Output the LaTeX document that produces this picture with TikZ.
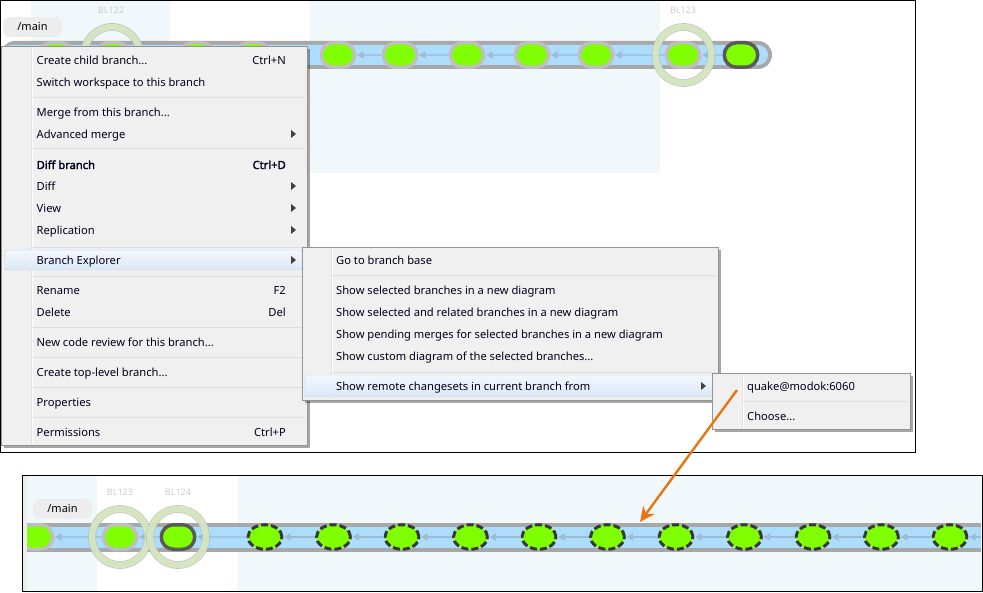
\documentclass[tikz,border=0pt]{standalone}
\usepackage{fontspec}
\setmainfont{Noto Sans}
\newfontfamily\heavyfont{Noto Sans}[FakeBold=2.2]
\usetikzlibrary{shapes}
\usetikzlibrary{arrows.meta}
\usetikzlibrary{shadows}
\definecolor{panelblue}{HTML}{F1F8FC}
\definecolor{bandgray}{HTML}{A8A8A8}
\definecolor{bandblue}{HTML}{ADDDFC}
\definecolor{linkblue}{HTML}{9DBBD2}
\definecolor{csgreen}{HTML}{80FF00}
\definecolor{ringgreen}{HTML}{D9EBC2}
\definecolor{menugray}{HTML}{F0F0F0}
\definecolor{hilitetop}{HTML}{F3F7FD}
\definecolor{hilitebottom}{HTML}{DCE8F6}
\definecolor{hiliteline}{HTML}{B4D0F0}
\definecolor{arroworange}{HTML}{E8750F}
\tikzset{
  cset node/.style={rounded rectangle,draw=black!25,line width=3.5pt,fill=csgreen,minimum width=33.5pt,minimum height=24.5pt,inner sep=0pt},
  head node/.style={cset node,draw=black!65},
  remote node/.style={ellipse,draw=black!78,line width=3pt,dash pattern=on 7pt off 3pt,fill=csgreen,minimum width=34pt,minimum height=24.5pt,inner sep=0pt},
  ring node/.style={circle,draw=black!28,line width=.6pt,double=ringgreen,double distance=6.5pt,minimum size=56pt,inner sep=0pt,opacity=.85},
  label node/.style={font=\fontsize{9}{9}\selectfont,text=black!20,inner sep=0pt},
  tag node/.style={rounded corners=7pt,fill=black!7,font=\fontsize{11}{11}\selectfont,minimum width=59pt,minimum height=20pt,inner sep=0pt},
  link/.style={draw=linkblue,line width=1.2pt,-{Latex[length=7pt,width=8pt]}},
  menu/.style={draw=black!42,fill=menugray,drop shadow={shadow xshift=3pt,shadow yshift=-3pt,opacity=.35,fill=black}},
  item/.style={anchor=west,inner sep=0pt,text=black!90!blue,font=\fontsize{11.17}{11}\selectfont,text height=12.5pt,text depth=2.5pt},
  key/.style={item,anchor=east},
  sep/.style={draw=black!13,line width=1pt},
  hilite/.style={draw=hiliteline,top color=hilitetop,bottom color=hilitebottom,rounded corners=2pt}
}
\begin{document}
\begin{tikzpicture}[x=1pt,y=-1pt]
  \useasboundingbox (0,0) rectangle (983,593);
  % upper window
  \fill[panelblue] (31,1) rectangle (170,173);
  \fill[panelblue] (310,1) rectangle (660,173);
  \fill[bandgray,rounded corners=14pt] (1,41) rectangle (772,69);
  \fill[bandblue,rounded corners=10pt] (1,45) rectangle (768,65);
  \node [ring node] (r1) at (112,55) {};
  \foreach \xpos/\name in {56/a,113/b,197/c,253/d,338/e,400/f,467/g,532/h,596/i,683/j}
    \node [cset node] (\name) at (\xpos,55) {};
  \node [head node] (k) at (741,55) {};
  \foreach \from/\to in {f/e,g/f,h/g,i/h,j/i,k/j}
    \draw [link] (\from) -- (\to);
  \node [ring node] (r2) at (683.5,55) {};
  \node [label node] (bl122) at (111,10) {BL122};
  \node [label node] (bl123) at (683,10) {BL123};
  \node [tag node] (tag1) at (32.5,27) {/main};
  % first menu
  \draw [menu] (1,45.8) rectangle (307,445);
  \draw [draw=black!12] (31,47) -- (31,444);
  \draw [white] (32,47) -- (32,444);
  \foreach \ypos in {98,149,248,277,328,358,388,418}
    \draw [sep] (32,\ypos) -- (305,\ypos);
  \draw [hilite] (5,250) rectangle (302,270);
  \foreach \ypos/\txt [count=\i] in {60/{Create child branch...},82/{Switch workspace to this branch},112/{Merge from this branch...},134/{Advanced merge},186/{Diff},208/{View},230/{Replication},260/{Branch Explorer},290/{Rename},312/{Delete},342/{New code review for this branch...},372/{Create top-level branch...},402/{Properties},432/{Permissions}}
    \node [item] (m\i) at (36.5,\ypos) {\txt};
  \node [item] (m15) at (36.5,164) {\heavyfont Diff branch};
  \foreach \ypos/\txt [count=\i] in {60/{Ctrl+N},164/{\heavyfont Ctrl+D},290/{F2},312/{Del},432/{Ctrl+P}}
    \node [key] (s\i) at (286,\ypos) {\txt};
  \foreach \ypos in {134,186,208,230,260}
    \fill [black!75] (291,\ypos-4) -- (296,\ypos) -- (291,\ypos+4) -- cycle;
  % second menu
  \draw [menu] (302,247) rectangle (718,400);
  \draw [draw=black!12] (331,248) -- (331,399);
  \draw [white] (332,248) -- (332,399);
  \foreach \ypos in {276,373}
    \draw [sep] (332,\ypos) -- (716,\ypos);
  \draw [hilite] (305,375) rectangle (715,397);
  \foreach \ypos/\txt [count=\i] in {260/{Go to branch base},290/{Show selected branches in a new diagram},312/{Show selected and related branches in a new diagram},334/{Show pending merges for selected branches in a new diagram},356/{Show custom diagram of the selected branches...},386/{Show remote changesets in current branch from}}
    \node [item] (n\i) at (336,\ypos) {\txt};
  \fill [black!75] (701,382) -- (706,386) -- (701,390) -- cycle;
  % third menu
  \draw [menu] (712,373) rectangle (910,429);
  \draw [draw=black!12] (742,374) -- (742,428);
  \draw [white] (743,374) -- (743,428);
  \draw [sep] (743,402) -- (908,402);
  \node [item] (p1) at (747,386) {quake@modok:6060};
  \node [item] (p2) at (747,416) {Choose...};
  \draw [black,line width=1pt] (.5,.5) rectangle (915.5,452.5);
  % lower window
  \fill [black!7] (22,475) rectangle (27,591);
  \fill [panelblue] (27,475) rectangle (97,591);
  \fill [panelblue] (238,475) rectangle (982,591);
  \fill [bandgray] (27,523) rectangle (981,552);
  \fill [bandblue] (27,527) rectangle (981,548);
  \begin{scope}
    \clip (27,475) rectangle (982,591);
    \node [cset node] (q0) at (36,537) {};
  \end{scope}
  \node [cset node] (q1) at (120,537) {};
  \node [head node] (q2) at (178,537) {};
  \foreach \xpos [count=\i from 3] in {265,333.5,402,470.5,539,607.5,676,744.5,813,881.5,950}
    \node [remote node] (q\i) at (\xpos,537) {};
  \foreach \from/\to in {q1/q0,q2/q1,q3/q2,q4/q3,q5/q4,q6/q5,q7/q6,q8/q7,q9/q8,q10/q9,q11/q10,q12/q11,q13/q12}
    \draw [link] (\from) -- (\to);
  \coordinate (q14) at (981,537);
  \draw [link] (q14) -- (q13);
  \node [ring node] (r3) at (120,537) {};
  \node [ring node] (r4) at (178,537) {};
  \node [label node] (bl123b) at (120,492) {BL123};
  \node [label node] (bl124) at (178,492) {BL124};
  \node [tag node] (tag2) at (62.5,509) {/main};
  \draw [black,line width=1pt] (22.5,475.5) rectangle (982,591.5);
  % what the menu entry brings in
  \coordinate (src) at (737,390);
  \coordinate (dst) at (640,522);
  \draw [arroworange,line width=2.4pt,-{Stealth[length=15pt,width=14pt]}] (src) -- (dst);
\end{tikzpicture}
\end{document}
